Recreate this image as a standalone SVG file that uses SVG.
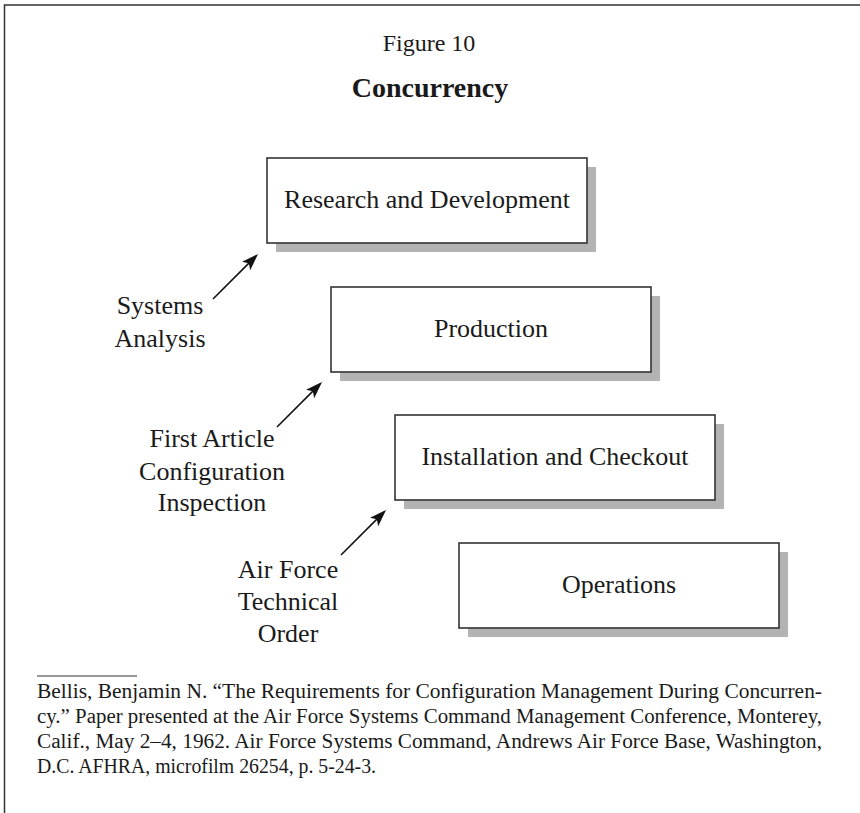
<svg xmlns="http://www.w3.org/2000/svg" width="860" height="813" viewBox="0 0 860 813">
<style>
.t{font-family:"Liberation Serif","Times New Roman",serif;fill:#1a1a1a}
.lbl{font-size:26px;text-anchor:middle}
.side{font-size:26px;text-anchor:middle}
.fn{font-size:20px}
.box{fill:#fff;stroke:#333;stroke-width:1.6}
.sh{fill:#b3b3b3}
.arr{stroke:#111;stroke-width:1.6;fill:none;marker-end:url(#ah)}
</style>
<defs>
<marker id="ah" markerUnits="userSpaceOnUse" viewBox="0 0 17 12" markerWidth="17" markerHeight="12" refX="14" refY="6" orient="auto">
<path d="M0,0 L17,6 L0,12 L4,6 Z" fill="#111"/>
</marker>
</defs>
<rect width="860" height="813" fill="#fff"/>
<g id="frame">
<path d="M4.5,813 L4.5,5 L860,5" fill="none" stroke="#333" stroke-width="1.5"/>
</g>
<g id="title">
<text class="t" x="429" y="51" font-size="24" text-anchor="middle">Figure 10</text>
<text class="t" x="430" y="97" font-size="28" font-weight="bold" text-anchor="middle">Concurrency</text>
</g>
<g id="node-rd">
<rect class="sh" x="276" y="167" width="320" height="85"/>
<rect class="box" x="267" y="158" width="320" height="85"/>
<text class="t lbl" x="427" y="207.5">Research and Development</text>
</g>
<g id="node-production">
<rect class="sh" x="340" y="296" width="320" height="85"/>
<rect class="box" x="331" y="287" width="320" height="85"/>
<text class="t lbl" x="491" y="336.5">Production</text>
</g>
<g id="node-installation">
<rect class="sh" x="404" y="424" width="320" height="85"/>
<rect class="box" x="395" y="415" width="320" height="85"/>
<text class="t lbl" x="555" y="464.5">Installation and Checkout</text>
</g>
<g id="node-operations">
<rect class="sh" x="468" y="552" width="320" height="85"/>
<rect class="box" x="459" y="543" width="320" height="85"/>
<text class="t lbl" x="619" y="592.5">Operations</text>
</g>
<g id="label-systems">
<text class="t side" x="160" y="314">Systems</text>
<text class="t side" x="160" y="346.5">Analysis</text>
</g>
<g id="label-first-article">
<text class="t side" x="212" y="447">First Article</text>
<text class="t side" x="212" y="480">Configuration</text>
<text class="t side" x="212" y="511">Inspection</text>
</g>
<g id="label-tech-order">
<text class="t side" x="288" y="578">Air Force</text>
<text class="t side" x="288" y="610">Technical</text>
<text class="t side" x="288" y="642">Order</text>
</g>
<g id="connectors">
<line class="arr" x1="213" y1="299" x2="255.9" y2="256.1"/>
<line class="arr" x1="277" y1="427" x2="319.9" y2="384.1"/>
<line class="arr" x1="341" y1="555" x2="383.9" y2="512.1"/>
</g>
<g id="footnote">
<line x1="37" y1="676" x2="137" y2="676" stroke="#333" stroke-width="1.2"/>
<text class="t fn" x="37" y="698" textLength="785" lengthAdjust="spacingAndGlyphs">Bellis, Benjamin N. “The Requirements for Configuration Management During Concurren-</text>
<text class="t fn" x="37" y="723" textLength="785" lengthAdjust="spacingAndGlyphs">cy.” Paper presented at the Air Force Systems Command Management Conference, Monterey,</text>
<text class="t fn" x="37" y="748" textLength="785" lengthAdjust="spacingAndGlyphs">Calif., May 2–4, 1962. Air Force Systems Command, Andrews Air Force Base, Washington,</text>
<text class="t fn" x="37" y="773" textLength="339" lengthAdjust="spacingAndGlyphs">D.C. AFHRA, microfilm 26254, p. 5-24-3.</text>
</g>
</svg>
